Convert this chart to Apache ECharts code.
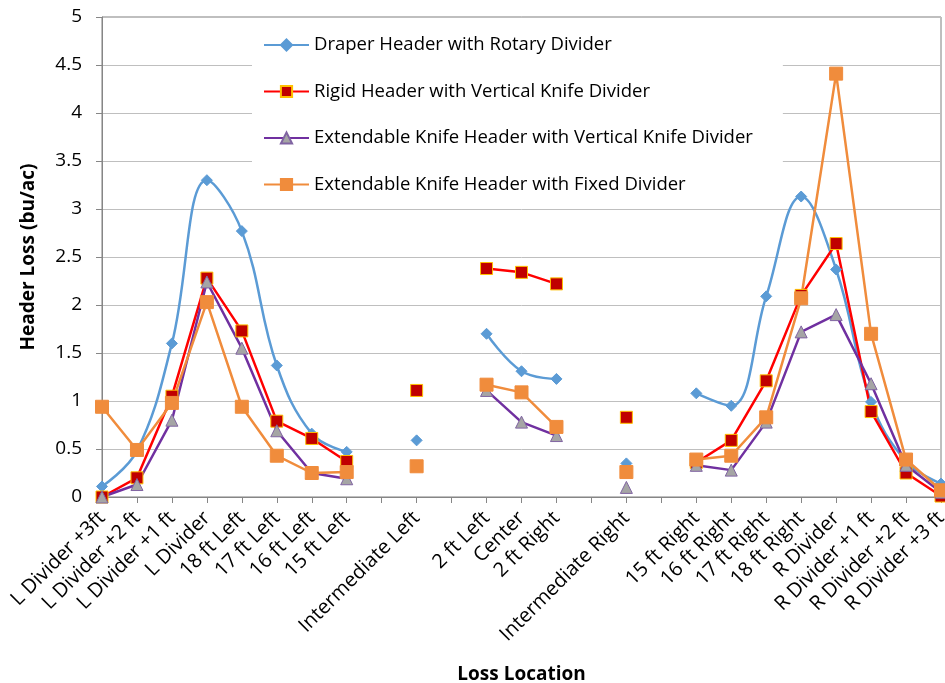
<!DOCTYPE html>
<html><head><meta charset="utf-8">
<script src="https://cdn.jsdelivr.net/npm/echarts@6/dist/echarts.min.js"></script>
<style>html,body{margin:0;padding:0;background:#fff}#c{width:945px;height:683px}</style>
</head><body><div id="c"></div>
<script>
const categories = ['L Divider +3ft','L Divider +2 ft','L Divider +1 ft','L Divider','18 ft Left','17 ft Left','16 ft Left','15 ft Left','','Intermediate Left','','2 ft Left','Center','2 ft Right','','Intermediate Right','','15 ft Right','16 ft Right','17 ft Right','18 ft Right','R Divider','R Divider +1 ft','R Divider +2 ft','R Divider +3 ft'];
const draper   = [0.11,0.48,1.60,3.30,2.77,1.37,0.66,0.47,null,0.59,null,1.70,1.31,1.23,null,0.35,null,1.08,0.95,2.09,3.13,2.37,0.99,0.37,0.14];
const rigid    = [0.00,0.20,1.05,2.28,1.73,0.79,0.61,0.37,null,1.11,null,2.38,2.34,2.22,null,0.83,null,0.36,0.59,1.21,2.10,2.64,0.89,0.25,0.01];
const extVK    = [0.00,0.13,0.80,2.24,1.55,0.69,0.25,0.19,null,null,null,1.11,0.78,0.64,null,0.10,null,0.33,0.28,0.78,1.72,1.90,1.18,0.33,0.05];
const extFixed = [0.94,0.49,0.98,2.03,0.94,0.43,0.25,0.26,null,0.32,null,1.17,1.09,0.73,null,0.26,null,0.39,0.43,0.83,2.07,4.41,1.70,0.39,0.07];
const seriesNames = ['Draper Header with Rotary Divider','Rigid Header with Vertical Knife Divider','Extendable Knife Header with Vertical Knife Divider','Extendable Knife Header with Fixed Divider'];
const yTicks = {min:0, max:5, interval:0.5};

const FONT = '"Open Sans", sans-serif';
const chart = echarts.init(document.getElementById('c'), null, {renderer:'canvas'});
chart.setOption({
  animation:false,
  backgroundColor:'#fff',
  grid:{left:102, right:4, top:17, bottom:186, show:true, borderColor:'#7f7f7f', borderWidth:1, backgroundColor:'transparent', outerBoundsMode:'none', containLabel:false},
  legend:{
    orient:'vertical', left:252, top:23, z:1,
    padding:[12,30,12,11],
    backgroundColor:'#fff',
    itemWidth:45, itemHeight:14, itemGap:26.5,
    textStyle:{fontFamily:FONT, fontSize:18.5, color:'#000', lineHeight:20},
    data:seriesNames
  },
  xAxis:{
    type:'category', data:categories, boundaryGap:false,
    name:'Loss Location', nameLocation:'middle', nameGap:168,
    nameTextStyle:{fontFamily:FONT, fontSize:19, fontWeight:'bold', color:'#000'},
    axisLine:{lineStyle:{color:'#868686', width:1}},
    axisTick:{show:true, interval:0, length:6, lineStyle:{color:'#868686'}},
    axisLabel:{interval:0, rotate:45, fontFamily:FONT, fontSize:20, color:'#000', margin:18, padding:[28,0,0,0]}
  },
  yAxis:{
    type:'value', min:yTicks.min, max:yTicks.max, interval:yTicks.interval,
    name:'Header Loss (bu/ac)', nameLocation:'middle', nameGap:64,
    nameTextStyle:{fontFamily:FONT, fontSize:19, fontWeight:'bold', color:'#000'},
    axisLine:{show:true, lineStyle:{color:'#868686', width:1}},
    axisTick:{show:true, length:6, lineStyle:{color:'#868686'}},
    axisLabel:{fontFamily:FONT, fontSize:19, color:'#000', margin:20},
    splitLine:{lineStyle:{color:'#bfbfbf', width:1}}
  },
  series:[
    {name:seriesNames[0], type:'line', data:draper, smooth:0.4, showAllSymbol:true,
      symbol:'diamond', symbolSize:11,
      lineStyle:{color:'#5B9BD5', width:2.5},
      itemStyle:{color:'#5B9BD5', borderColor:'#5B9BD5', borderWidth:1}},
    {name:seriesNames[1], type:'line', data:rigid, showAllSymbol:true,
      symbol:'rect', symbolSize:12,
      lineStyle:{color:'#FF0000', width:2.5},
      itemStyle:{color:'#C00000', borderColor:'#FFC000', borderWidth:1}},
    {name:seriesNames[2], type:'line', data:extVK, showAllSymbol:true,
      symbol:'triangle', symbolSize:12,
      lineStyle:{color:'#7030A0', width:2.5},
      itemStyle:{color:'#A5A5A5', borderColor:'#8064A2', borderWidth:1}},
    {name:seriesNames[3], type:'line', data:extFixed, showAllSymbol:true,
      symbol:'rect', symbolSize:13,
      lineStyle:{color:'#F08C3C', width:2.5},
      itemStyle:{color:'#F08C3C', borderColor:'#F08C3C', borderWidth:1}}
  ]
});
</script></body></html>
